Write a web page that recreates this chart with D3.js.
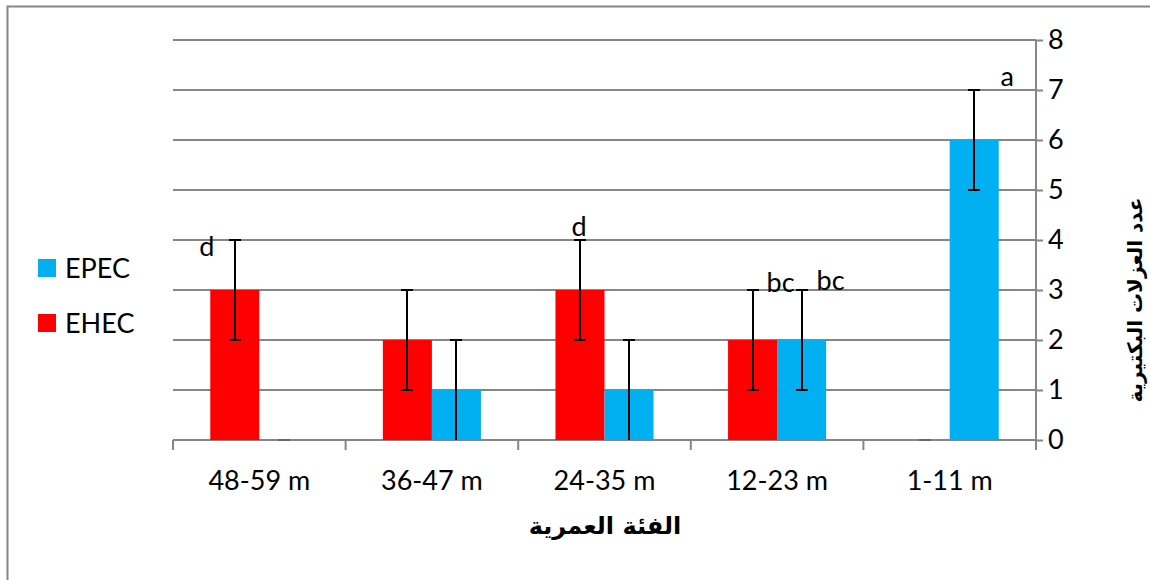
<!DOCTYPE html>
<html>
<head>
<meta charset="utf-8">
<script src="https://cdn.jsdelivr.net/npm/d3@7"></script>
<style>
  body { margin: 0; background: #fff; }
  svg { display: block; }
</style>
</head>
<body>
<svg id="chart" width="1150" height="580"></svg>
<script>
// Age groups, left to right
const categories = ["48-59 m", "36-47 m", "24-35 m", "12-23 m", "1-11 m"];
const seriesNames = ["EHEC", "EPEC"];
const ehecValues = [3, 2, 3, 2, 0];
const epecValues = [0, 1, 1, 2, 6];
const ehecErrors = [1, 1, 1, 1, 0];
const epecErrors = [0, 1, 1, 1, 1];
// significance letters (null = none)
const ehecLetters = ["d", null, "d", "bc", null];
const epecLetters = [null, null, null, "bc", "a"];
const yTicks = [0, 1, 2, 3, 4, 5, 6, 7, 8];
const colors = { EHEC: "#FF0000", EPEC: "#00B0F0" };
const xTitle = "الفئة العمرية";
const yTitle = "عدد العزلات البكتيرية";

const svg = d3.select("#chart");
const latin = "Lato, 'Open Sans', sans-serif";
const arabic = "'DejaVu Sans', sans-serif";
const fs = 27;

// chart frame
svg.append("rect").attr("x", 7.5).attr("y", 6.5).attr("width", 1160).attr("height", 600)
  .attr("fill", "none").attr("stroke", "#868686").attr("stroke-width", 2);

const plot = { left: 173, right: 1036, top: 40, bottom: 440 };
const x = d3.scaleBand().domain(categories).range([plot.left, plot.right]).paddingInner(0).paddingOuter(0);
const y = d3.scaleLinear().domain([0, 8]).range([plot.bottom, plot.top]);
const inner = d3.scaleBand().domain(seriesNames).range([0, x.bandwidth()]).paddingInner(0).paddingOuter(0.76);

// horizontal gridlines
svg.append("g").selectAll("line").data(yTicks.filter(d => d > 0)).join("line")
  .attr("x1", plot.left).attr("x2", plot.right)
  .attr("y1", d => y(d)).attr("y2", d => y(d))
  .attr("stroke", "#868686").attr("stroke-width", 2);

// right value axis
const yAxis = d3.axisRight(y).tickValues(yTicks).tickSize(7).tickPadding(5).tickFormat(d3.format("d"));
const gy = svg.append("g").attr("transform", `translate(${plot.right},0)`).call(yAxis);
gy.select(".domain").attr("stroke", "#868686").attr("stroke-width", 2).attr("d", `M0,${plot.top}V${plot.bottom}`);
gy.selectAll(".tick line").attr("stroke", "#868686").attr("stroke-width", 2);
gy.selectAll(".tick text").attr("font-family", latin).attr("font-size", fs).attr("fill", "#000");

// category axis
const xAxis = d3.axisBottom(x).tickSize(0).tickPadding(31);
const gx = svg.append("g").attr("transform", `translate(0,${plot.bottom})`).call(xAxis);
gx.select(".domain").attr("stroke", "#868686").attr("stroke-width", 2).attr("d", `M${plot.left},0H${plot.right}`);
gx.selectAll(".tick text").attr("font-family", latin).attr("font-size", fs).attr("fill", "#000");
const bounds = categories.map(c => x(c)).concat([plot.right]);
gx.append("g").selectAll("line").data(bounds).join("line")
  .attr("x1", d => d).attr("x2", d => d).attr("y1", 0).attr("y2", 10)
  .attr("stroke", "#868686").attr("stroke-width", 2);

// bars
const rows = [];
categories.forEach((c, i) => {
  rows.push({ cat: c, s: "EHEC", v: ehecValues[i], e: ehecErrors[i], l: ehecLetters[i] });
  rows.push({ cat: c, s: "EPEC", v: epecValues[i], e: epecErrors[i], l: epecLetters[i] });
});
svg.append("g").selectAll("rect").data(rows.filter(d => d.v > 0)).join("rect")
  .attr("x", d => x(d.cat) + inner(d.s))
  .attr("width", inner.bandwidth())
  .attr("y", d => y(d.v))
  .attr("height", d => y(0) - y(d.v))
  .attr("fill", d => colors[d.s]);

// error bars
const cx = d => x(d.cat) + inner(d.s) + inner.bandwidth() / 2;
const eb = svg.append("g").attr("stroke", "#000").attr("stroke-width", 2);
rows.forEach(d => {
  const xc = Math.round(cx(d));
  if (d.v === 0 && d.e === 0) {
    eb.append("line").attr("x1", xc - 6).attr("x2", xc + 6).attr("y1", y(0)).attr("y2", y(0))
      .attr("stroke", "#666");
    return;
  }
  const lo = y(Math.max(0, d.v - d.e)), hi = y(d.v + d.e);
  eb.append("line").attr("x1", xc).attr("x2", xc).attr("y1", lo).attr("y2", hi);
  eb.append("line").attr("x1", xc - 6).attr("x2", xc + 6).attr("y1", hi).attr("y2", hi);
  if (d.v - d.e > 0) eb.append("line").attr("x1", xc - 6).attr("x2", xc + 6).attr("y1", lo).attr("y2", lo);
});

// significance letters, placed relative to the top of each error bar
const letterPlacement = {
  "48-59 m|EHEC": [-28, 16],
  "24-35 m|EHEC": [-1, -4],
  "12-23 m|EHEC": [28, 2],
  "12-23 m|EPEC": [29, 0],
  "1-11 m|EPEC": [33, -4]
};
svg.append("g").selectAll("text").data(rows.filter(d => d.l)).join("text")
  .attr("x", d => cx(d) + letterPlacement[d.cat + "|" + d.s][0])
  .attr("y", d => y(d.v + d.e) + letterPlacement[d.cat + "|" + d.s][1])
  .attr("text-anchor", "middle")
  .attr("font-family", latin).attr("font-size", fs).attr("fill", "#000")
  .text(d => d.l);

// legend
const legendItems = ["EPEC", "EHEC"];
const lg = svg.append("g");
legendItems.forEach((s, i) => {
  const yy = 259 + i * 55;
  lg.append("rect").attr("x", 38).attr("y", yy).attr("width", 18).attr("height", 18).attr("fill", colors[s]);
  lg.append("text").attr("x", 65).attr("y", yy + 19).attr("font-family", latin).attr("font-size", fs)
    .attr("fill", "#000").text(s);
});

// axis titles
svg.append("text").attr("x", 605).attr("y", 534).attr("text-anchor", "middle")
  .attr("font-family", arabic).attr("font-weight", "bold").attr("font-size", 24)
  .attr("direction", "rtl").text(xTitle);
svg.append("text").attr("transform", "translate(1135,300) rotate(-90)").attr("text-anchor", "middle")
  .attr("dy", "0.35em")
  .attr("font-family", arabic).attr("font-weight", "bold").attr("font-size", 20)
  .attr("direction", "rtl").text(yTitle);
</script>
</body>
</html>
